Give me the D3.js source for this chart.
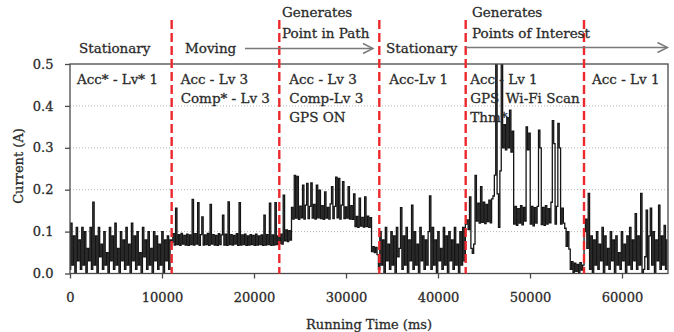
<!DOCTYPE html>
<html>
<head>
<meta charset="utf-8">
<script src="https://cdn.jsdelivr.net/npm/d3@7"></script>
<style>
  body { margin: 0; background: #fff; }
  svg text { font-family: "DejaVu Serif", serif; fill: #2b2b2b; stroke: #2b2b2b; stroke-width: 0.3px; }
</style>
</head>
<body>
<div id="chart"></div>
<script>
// current trace, one reading every 150 ms
const sampleStepMs = 150;
const currentA = [
  // stationary
  0.01, 0.12, 0.02, 0.09, 0.00, 0.11, 0.03, 0.08, 0.01, 0.11,
  0.02, 0.10, 0.00, 0.06, 0.03, 0.11, 0.01, 0.17, 0.02, 0.09,
  0.00, 0.11, 0.04, 0.07, 0.01, 0.10, 0.02, 0.05, 0.00, 0.11,
  0.03, 0.09, 0.01, 0.12, 0.02, 0.06, 0.00, 0.10, 0.03, 0.08,
  0.01, 0.11, 0.02, 0.07, 0.00, 0.12, 0.03, 0.09, 0.01, 0.10,
  0.02, 0.05, 0.00, 0.11, 0.04, 0.08, 0.01, 0.10, 0.02, 0.06,
  0.00, 0.10, 0.03, 0.09, 0.01, 0.07, 0.02, 0.10, 0.00, 0.08,
  0.03, 0.09, 0.01, 0.08,
  // moving
  0.075, 0.095, 0.068, 0.156, 0.069, 0.093, 0.067, 0.096, 0.070, 0.091,
  0.068, 0.094, 0.067, 0.092, 0.069, 0.177, 0.068, 0.095, 0.070, 0.169,
  0.067, 0.093, 0.135, 0.068, 0.092, 0.069, 0.096, 0.067, 0.165, 0.070,
  0.093, 0.068, 0.091, 0.067, 0.095, 0.069, 0.092, 0.139, 0.068, 0.094,
  0.067, 0.171, 0.069, 0.093, 0.068, 0.091, 0.070, 0.095, 0.067, 0.169,
  0.068, 0.092, 0.069, 0.094, 0.067, 0.090, 0.068, 0.093, 0.069, 0.091,
  0.067, 0.094, 0.068, 0.090, 0.069, 0.092, 0.067, 0.139, 0.068, 0.093,
  0.069, 0.168, 0.067, 0.092, 0.068, 0.169, 0.069, 0.090,
  // point in path
  0.072, 0.094, 0.070, 0.187, 0.078, 0.104, 0.076, 0.102, 0.080,
  0.158, 0.130, 0.234, 0.132, 0.232, 0.129, 0.161, 0.133, 0.211, 0.130,
  0.163, 0.215, 0.131, 0.160, 0.216, 0.132, 0.165, 0.130, 0.211, 0.133,
  0.199, 0.131, 0.162, 0.129, 0.195, 0.132, 0.158, 0.130, 0.166, 0.207,
  0.131, 0.160, 0.230, 0.133, 0.227, 0.130, 0.163, 0.219, 0.131, 0.159,
  0.132, 0.207, 0.130, 0.162, 0.129, 0.190,
  0.112, 0.136, 0.110, 0.180, 0.113, 0.134, 0.111, 0.183, 0.112, 0.137, 0.110, 0.133,
  0.052, 0.064, 0.050, 0.062, 0.045,
  // stationary
  0.01, 0.10, 0.02, 0.08, 0.00, 0.11, 0.03, 0.07, 0.01, 0.10,
  0.02, 0.09, 0.00, 0.11, 0.04, 0.06, 0.157, 0.01, 0.09, 0.02,
  0.11, 0.00, 0.08, 0.03, 0.163, 0.01, 0.10, 0.02, 0.07, 0.00,
  0.11, 0.03, 0.09, 0.01, 0.08, 0.02, 0.10, 0.185, 0.01, 0.11,
  0.02, 0.08, 0.00, 0.10, 0.03, 0.06, 0.01, 0.11, 0.02, 0.09,
  0.00, 0.10, 0.03, 0.08, 0.01, 0.11, 0.02, 0.07, 0.00, 0.10,
  0.02, 0.11, 0.03,
  // points of interest
  0.118, 0.128, 0.105, 0.183, 0.060, 0.048, 0.070, 0.234,
  0.125, 0.168, 0.120, 0.207, 0.122, 0.170, 0.119, 0.165, 0.124, 0.175, 0.121, 0.178,
  0.185, 0.235, 0.550, 0.190, 0.110, 0.245, 0.550, 0.300,
  0.355, 0.295, 0.372, 0.300, 0.390, 0.290, 0.340,
  0.118, 0.160, 0.115, 0.155, 0.120, 0.162, 0.116, 0.158, 0.125,
  0.350, 0.295, 0.335,
  0.118, 0.160, 0.114, 0.157, 0.120, 0.160,
  0.342, 0.300,
  0.117, 0.158, 0.115, 0.162, 0.118, 0.155, 0.121, 0.170,
  0.365, 0.310, 0.118, 0.160,
  0.358, 0.300, 0.118, 0.156, 0.120,
  0.108, 0.065, 0.100, 0.058,
  0.010, 0.028, 0.003, 0.025, 0.005, 0.022, 0.002, 0.026, 0.008, 0.020,
  // stationary
  0.100, 0.130, 0.060, 0.191, 0.010, 0.090, 0.000, 0.080, 0.020, 0.100,
  0.010, 0.070, 0.030, 0.110, 0.000, 0.090, 0.020, 0.060, 0.010, 0.100,
  0.030, 0.080, 0.000, 0.090, 0.020, 0.050, 0.010, 0.100, 0.030, 0.070,
  0.000, 0.090, 0.020, 0.110, 0.010, 0.080, 0.030, 0.143, 0.010, 0.090,
  0.020, 0.191, 0.000, 0.010, 0.040, 0.151, 0.010, 0.090, 0.156, 0.020,
  0.100, 0.000, 0.080, 0.030, 0.163, 0.010, 0.090, 0.020, 0.115, 0.010,
  0.080
];

const phaseBoundsMs = [11050, 22750, 33620, 43010, 55870];
const xTicks = [0, 10000, 20000, 30000, 40000, 50000, 60000];
const yTicks = [0, 0.1, 0.2, 0.3, 0.4, 0.5];
const gridTicks = [0.1, 0.2, 0.3, 0.4];

const phaseLabels = [
  ['Acc* - Lv* 1'],
  ['Acc - Lv 3', 'Comp* - Lv 3'],
  ['Acc - Lv 3', 'Comp-Lv 3', 'GPS ON'],
  ['Acc-Lv 1'],
  ['Acc - Lv 1', 'GPS', 'Thm*'],
  ['Acc - Lv 1']
];
const headerLabels = ['Stationary', 'Moving', 'Generates', 'Point in Path',
  'Stationary', 'Generates', 'Points of Interest'];

const width = 674, height = 332;
const margin = { top: 64, right: 6, bottom: 58.5, left: 70 };
const plotW = width - margin.left - margin.right;
const plotH = height - margin.top - margin.bottom;

const svg = d3.select('#chart').append('svg')
  .attr('width', width)
  .attr('height', height);

const x = d3.scaleLinear().domain([0, 65000]).range([margin.left, margin.left + plotW]);
const y = d3.scaleLinear().domain([0, 0.5]).range([margin.top + plotH, margin.top]);

svg.append('defs').append('clipPath').attr('id', 'plotClip')
  .append('rect')
  .attr('x', margin.left).attr('y', margin.top)
  .attr('width', plotW).attr('height', plotH);

// dotted grid
svg.append('g').selectAll('line')
  .data(gridTicks)
  .enter().append('line')
  .attr('x1', margin.left).attr('x2', margin.left + plotW)
  .attr('y1', d => y(d)).attr('y2', d => y(d))
  .attr('stroke', '#b5b5b5')
  .attr('stroke-width', 1)
  .attr('stroke-dasharray', '1,2');

// trace
const line = d3.line()
  .x((d, i) => x(i * sampleStepMs))
  .y(d => y(d))
  .curve(d3.curveStep);

svg.append('path')
  .datum(currentA)
  .attr('clip-path', 'url(#plotClip)')
  .attr('d', line)
  .attr('fill', 'none')
  .attr('stroke', '#151515')
  .attr('stroke-width', 1.3);

// frame
svg.append('rect')
  .attr('x', margin.left).attr('y', margin.top)
  .attr('width', plotW).attr('height', plotH)
  .attr('fill', 'none')
  .attr('stroke', '#4a4a4a')
  .attr('stroke-width', 1.3);

// axes
const xAxis = svg.append('g')
  .attr('transform', `translate(0,${margin.top + plotH})`)
  .call(d3.axisBottom(x).tickValues(xTicks).tickFormat(d3.format('d'))
    .tickSize(5).tickPadding(14.5));
const yAxis = svg.append('g')
  .attr('transform', `translate(${margin.left},0)`)
  .call(d3.axisLeft(y).tickValues(yTicks).tickFormat(d3.format('.1f'))
    .tickSize(5).tickPadding(11.5));

[xAxis, yAxis].forEach(g => {
  g.select('.domain').remove();
  g.selectAll('.tick line').attr('stroke', '#4a4a4a').attr('stroke-width', 1.3);
  g.selectAll('.tick text')
    .style('font-family', '"DejaVu Serif", serif')
    .style('font-size', '13px')
    .attr('fill', '#2b2b2b');
});

svg.append('text')
  .attr('x', x(32500)).attr('y', 329)
  .attr('text-anchor', 'middle')
  .style('font-size', '13px')
  .text('Running Time (ms)');

svg.append('text')
  .attr('transform', 'translate(18,166) rotate(-90)')
  .attr('dy', '0.35em')
  .attr('text-anchor', 'middle')
  .style('font-size', '13px')
  .text('Current (A)');

// red phase separators
svg.append('g').selectAll('line')
  .data(phaseBoundsMs)
  .enter().append('line')
  .attr('x1', d => x(d)).attr('x2', d => x(d))
  .attr('y1', 20).attr('y2', margin.top + plotH)
  .attr('stroke', '#ec2a2e')
  .attr('stroke-width', 2.4)
  .attr('stroke-dasharray', '9,4');

// phase labels inside the plot
const phaseStarts = [0].concat(phaseBoundsMs);
const labelOffsets = [7, 9, 10, 10, 4.5, 8];
const rowBase = [84, 103, 122];
phaseLabels.forEach((rows, p) => {
  rows.forEach((t, r) => {
    svg.append('text')
      .attr('x', x(phaseStarts[p]) + labelOffsets[p])
      .attr('y', rowBase[r])
      .style('font-size', '13.5px')
      .text(t);
  });
});
svg.append('text')
  .attr('x', x(phaseBoundsMs[3]) + 40).attr('y', rowBase[1])
  .style('font-size', '13.5px')
  .text('Wi-Fi Scan');

// header annotations
const headerPos = [[79, 53], [185, 53], [282, 17], [282, 38], [386, 53], [472, 17], [472, 38]];
headerLabels.forEach((t, i) => {
  svg.append('text')
    .attr('x', headerPos[i][0]).attr('y', headerPos[i][1])
    .style('font-size', '13.5px')
    .text(t);
});

// arrows
const arrows = [[245, 373, 48.5], [466, 667.5, 47.5]];
arrows.forEach(a => {
  svg.append('line')
    .attr('x1', a[0]).attr('x2', a[1])
    .attr('y1', a[2]).attr('y2', a[2])
    .attr('stroke', '#7a7a7a').attr('stroke-width', 1.4);
  svg.append('path')
    .attr('d', `M${a[1] - 10},${a[2] - 5}L${a[1]},${a[2]}L${a[1] - 10},${a[2] + 5}`)
    .attr('fill', 'none')
    .attr('stroke', '#7a7a7a').attr('stroke-width', 1.4);
});
</script>
</body>
</html>
